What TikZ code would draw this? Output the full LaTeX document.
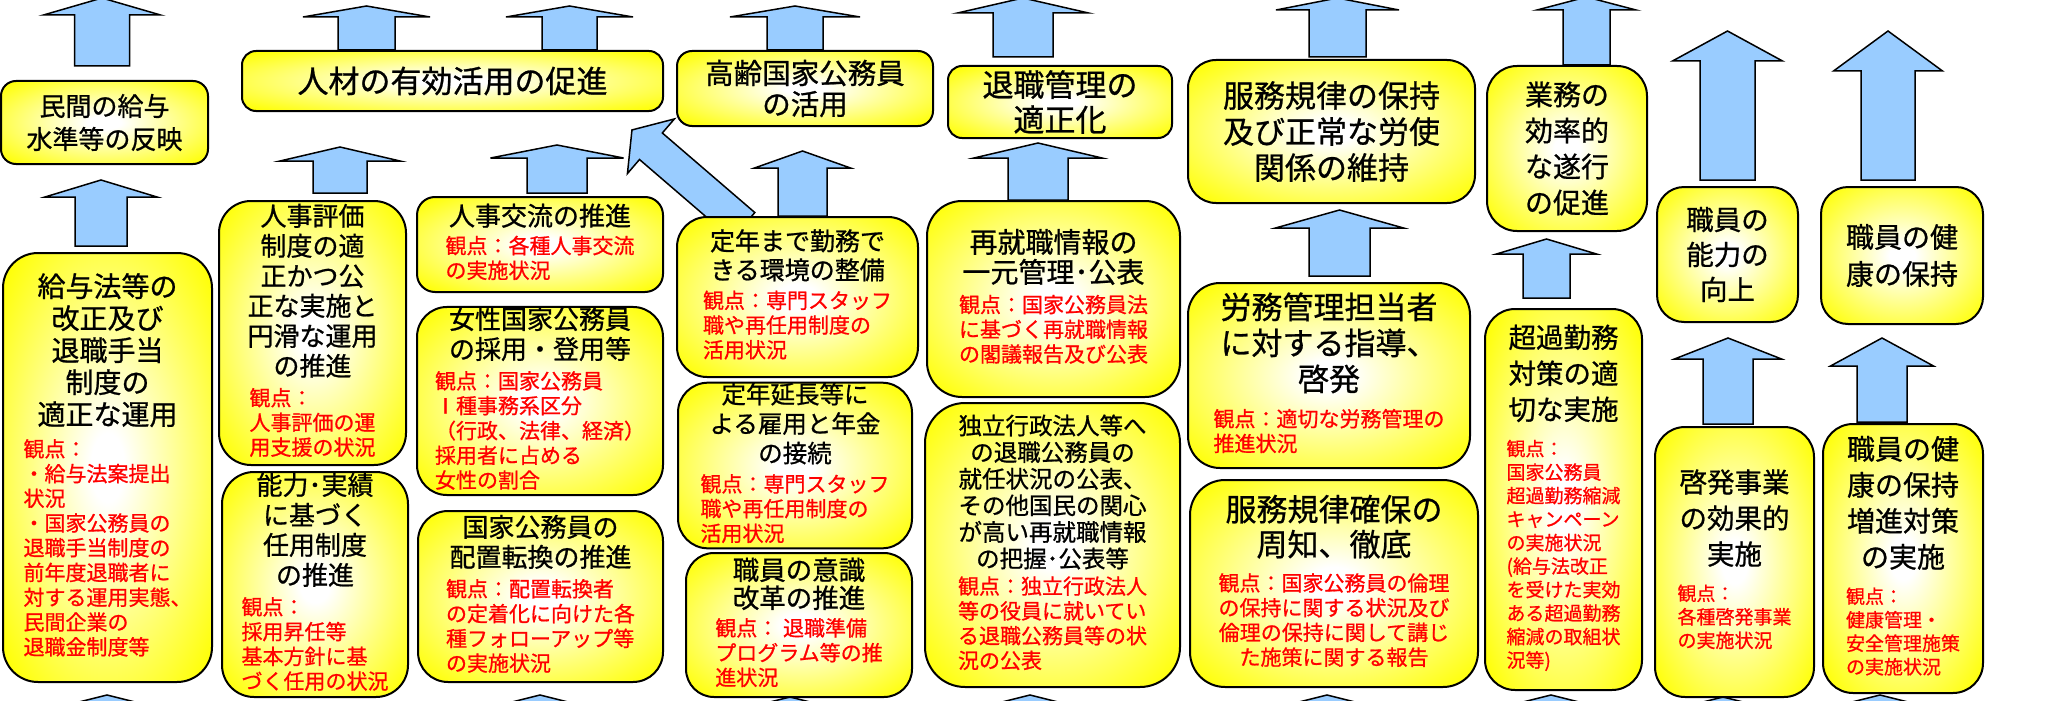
\documentclass[tikz,border=0pt]{standalone}
\usepackage{fontspec}
\setmainfont{Noto Sans CJK JP}[RawFeature={embolden=0.8}]
\usetikzlibrary{positioning,calc,backgrounds}
\definecolor{arrblue}{RGB}{153,204,255}
\pgfdeclareradialshading{boxglow}{\pgfpoint{0bp}{0bp}}{color(0bp)=(white); color(4bp)=(white); color(34bp)=(yellow); color(50bp)=(yellow)}
\tikzset{kbox/.style = {draw, line width=2pt, shading=boxglow, rounded corners=#1, inner sep=0pt, align=center},
         kbox/.default = 15pt,
         blockarr/.style = {draw, line width=1.5pt, fill=arrblue, line join=miter}}
\newcommand{\fs}[2]{\fontsize{#1}{#2}\selectfont}
\newcommand{\kanten}[2][l]{{\color{red}\fs{21}{23.5}\begin{tabular}[t]{@{}#1@{}}#2\end{tabular}}}
\newcommand{\kantens}[2][l]{{\color{red}\fs{19}{23.5}\begin{tabular}[t]{@{}#1@{}}#2\end{tabular}}}
% x centre, from (bottom), to (tip), shaft half, head half, head length
\newcommand{\blkup}[6]{\draw[blockarr] let \p1=#2, \p2=#3 in
    (#1pt-#4pt,\y1) -- (#1pt-#4pt,\y2-#6pt) -- (#1pt-#5pt,\y2-#6pt) -- (#1pt,\y2)
    -- (#1pt+#5pt,\y2-#6pt) -- (#1pt+#4pt,\y2-#6pt) -- (#1pt+#4pt,\y1) -- cycle;}

\begin{document}
\begin{tikzpicture}[x=1pt, y=-1pt]
    \useasboundingbox (0,0) rectangle (2067,701);

    \node[kbox=15pt, minimum width=207pt, minimum height=83pt,  font=\fs{26}{33}]     (minkan)    at (104.5,122.5)  {民間の給与\\水準等の反映};
    \node[kbox=35pt, minimum width=209pt, minimum height=429pt, font=\fs{28}{32}]     (kyuyo)     at (107.5,467.5)  {給与法等の\\改正及び\\退職手当\\制度の\\適正な運用\\
        \kanten{観点：\\・給与法案提出\\状況\\・国家公務員の\\退職手当制度の\\前年度退職者に\\対する運用実態、\\民間企業の\\退職金制度等}};

    \node[kbox=14pt, minimum width=421pt, minimum height=60pt,  font=\fs{31}{36}]     (jinzai)    at (452.5,81)     {人材の有効活用の促進};
    \node[kbox=32pt, minimum width=187pt, minimum height=264pt, font=\fs{26}{30}]     (hyoka)     at (312.5,333)    {人事評価\\制度の適\\正かつ公\\正な実施と\\円滑な運用\\の推進\\
        \kanten{観点：\\人事評価の運\\用支援の状況}};
    \node[kbox=32pt, minimum width=186pt, minimum height=225pt, font=\fs{26}{30}]     (noryoku)   at (315,584.5)    {能力･実績\\に基づく\\任用制度\\の推進\\
        \kanten{観点：\\採用昇任等\\基本方針に基\\づく任用の状況}};
    \node[kbox=18pt, minimum width=246pt, minimum height=95pt,  font=\fs{26}{28}]     (koryu)     at (540,244.5)    {人事交流の推進\\
        \kanten{観点：各種人事交流\\の実施状況}};
    \node[kbox=30pt, minimum width=246pt, minimum height=188pt, font=\fs{26}{30}]     (josei)     at (540,401)      {女性国家公務員\\の採用・登用等\\
        \kanten{観点：国家公務員\\Ⅰ種事務系区分\\（行政、法律、経済）\\採用者に占める\\女性の割合}};
    \node[kbox=30pt, minimum width=245pt, minimum height=171pt, font=\fs{26}{30}]     (haichi)    at (540.5,596.5)  {国家公務員の\\配置転換の推進\\
        \kanten{観点：配置転換者\\の定着化に向けた各\\種フォローアップ等\\の実施状況}};

    \node[kbox=15pt, minimum width=256pt, minimum height=75pt,  font=\fs{28.5}{31}]   (korei)     at (805,88.5)     {高齢国家公務員\\の活用};
    \node[kbox=30pt, minimum width=241pt, minimum height=160pt, font=\fs{25}{29}]     (teinen)    at (797.5,297)    {定年まで勤務で\\きる環境の整備\\
        \kanten{観点：専門スタッフ\\職や再任用制度の\\活用状況}};
    \node[kbox=30pt, minimum width=234pt, minimum height=165pt, font=\fs{24.5}{29.5}] (encho)     at (795,465.5)    {定年延長等に\\よる雇用と年金\\の接続\\
        \kanten{観点：専門スタッフ\\職や再任用制度の\\活用状況}};
    \node[kbox=28pt, minimum width=226pt, minimum height=144pt, font=\fs{26.5}{28}]   (ishiki)    at (799,625)      {職員の意識\\改革の推進\\
        \kanten{観点： 退職準備\\プログラム等の推\\進状況}};

    \node[kbox=14pt, minimum width=224pt, minimum height=72pt,  font=\fs{31}{35}]     (taishoku)  at (1060,102)     {退職管理の\\適正化};
    \node[kbox=35pt, minimum width=253pt, minimum height=196pt, font=\fs{28}{30}]     (saishu)    at (1053.5,299)   {再就職情報の\\一元管理･公表\\
        \kanten{観点：国家公務員法\\に基づく再就職情報\\の閣議報告及び公表}};
    \node[kbox=40pt, minimum width=255pt, minimum height=284pt, font=\fs{23.5}{26.6}] (dokuritsu) at (1052.5,545)   {独立行政法人等へ\\の退職公務員の\\就任状況の公表、\\その他国民の関心\\が高い再就職情報\\の把握･公表等\\
        \kanten{観点：独立行政法人\\等の役員に就いてい\\る退職公務員等の状\\況の公表}};

    \node[kbox=28pt, minimum width=287pt, minimum height=143pt, font=\fs{31}{36}]     (fukumu)    at (1331.5,131.5) {服務規律の保持\\及び正常な労使\\関係の維持};
    \node[kbox=32pt, minimum width=282pt, minimum height=185pt, font=\fs{31}{36}]     (romu)      at (1329,375.5)   {労務管理担当者\\に対する指導、\\啓発\\
        \kanten{観点：適切な労務管理の\\推進状況}};
    \node[kbox=35pt, minimum width=288pt, minimum height=207pt, font=\fs{31}{35}]     (kakuho)    at (1334,583.5)   {服務規律確保の\\周知、徹底\\
        \kanten[c]{観点：国家公務員の倫理\\の保持に関する状況及び\\倫理の保持に関して講じ\\た施策に関する報告}};

    \node[kbox=30pt, minimum width=160pt, minimum height=165pt, font=\fs{28}{36}]     (gyomu)     at (1567,148.5)   {業務の\\効率的\\な遂行\\の促進};
    \node[kbox=30pt, minimum width=157pt, minimum height=381pt, font=\fs{27.5}{36}]   (choka)     at (1563.5,499.5) {超過勤務\\対策の適\\切な実施\\
        \kantens{観点：\\国家公務員\\超過勤務縮減\\キャンペーン\\の実施状況\\(給与法改正\\を受けた実効\\ある超過勤務\\縮減の取組状\\況等)}};

    \node[kbox=27pt, minimum width=141pt, minimum height=135pt, font=\fs{27.5}{35}]   (nokoj)     at (1727.5,254.5) {職員の\\能力の\\向上};
    \node[kbox=30pt, minimum width=159pt, minimum height=270pt, font=\fs{27.5}{36}]   (keihatsu)  at (1734.5,562)   {啓発事業\\の効果的\\実施\\
        \kantens{観点：\\各種啓発事業\\の実施状況}};

    \node[kbox=27pt, minimum width=162pt, minimum height=137pt, font=\fs{28}{37}]     (kenko)     at (1902,255.5)   {職員の健\\康の保持};
    \node[kbox=30pt, minimum width=160pt, minimum height=269pt, font=\fs{28}{36}]     (kenzo)     at (1903,558.5)   {職員の健\\康の保持\\増進対策\\の実施\\
        \kantens{観点：\\健康管理・\\安全管理施策\\の実施状況}};

    % free ends beyond the frame
    \coordinate (t1) at (102,-2);    \coordinate (t2) at (366.5,6);  \coordinate (t3) at (569.5,6);
    \coordinate (t4) at (795,6);     \coordinate (t5) at (1023,-2);  \coordinate (t6) at (1337.5,-2);
    \coordinate (t7) at (1587,-3);   \coordinate (t8) at (1727.5,31); \coordinate (t9) at (1888,31);
    \foreach \i/\x in {1/107, 2/540, 3/790, 4/1030, 5/1327, 6/1551, 7/1723, 8/1880}
        \coordinate (b\i) at (\x,770);

    \begin{scope}[on background layer]
        \blkup{102}{($(minkan.north)+(0,-14)$)}{(t1)}{27.5}{58.5}{17}
        \blkup{101}{($(kyuyo.north)+(0,-6)$)}{($(minkan.south)+(0,15)$)}{26}{56}{17}
        \blkup{366.5}{(jinzai.north)}{(t2)}{28.5}{63.5}{11}
        \blkup{569.5}{(jinzai.north)}{(t3)}{27.5}{63.5}{11}
        \blkup{340}{($(hyoka.north)+(0,-7)$)}{($(jinzai.south)+(0,35)$)}{27}{60}{14}
        \blkup{557}{($(koryu.north)+(0,-3)$)}{($(jinzai.south)+(0,33)$)}{30}{66.5}{13}
        \blkup{795}{(korei.north)}{(t4)}{28}{65}{11}
        \blkup{802.5}{(teinen.north)}{($(korei.south)+(0,24)$)}{24.5}{48}{17}
        \draw[blockarr, shift={($(teinen.north west)+(67.4,9.8)$)}, rotate=139.3]
            (0,-17.5) -- (122,-17.5) -- (122,-36) -- (147,0) -- (122,36) -- (122,17.5) -- (0,17.5) -- cycle;
        \blkup{1023}{($(taishoku.north)+(0,-8)$)}{(t5)}{30}{65.5}{15}
        \blkup{1038}{(saishu.north)}{($(taishoku.south)+(0,4)$)}{30}{64}{15}
        \blkup{1337.5}{($(fukumu.north)+(0,-2)$)}{(t6)}{28.5}{61.5}{12}
        \blkup{1339.5}{($(romu.north)+(0,-6)$)}{($(fukumu.south)+(0,6)$)}{30.5}{64}{18}
        \blkup{1586.5}{(gyomu.north)}{(t7)}{23.5}{49.5}{13}
        \blkup{1546.5}{($(choka.north)+(0,-10)$)}{($(gyomu.south)+(0,7)$)}{23.5}{50}{15}
        \blkup{1727.5}{($(nokoj.north)+(0,-6)$)}{(t8)}{27.5}{55}{30}
        \blkup{1728}{($(keihatsu.north)+(0,-2)$)}{($(nokoj.south)+(0,15)$)}{25}{53.5}{21}
        \blkup{1888}{($(kenko.north)+(0,-6)$)}{(t9)}{27}{54.5}{40}
        \blkup{1882}{($(kenzo.north)+(0,-1)$)}{($(kenko.south)+(0,13)$)}{25}{51.5}{28}
        % arrows coming up from below the frame
        \blkup{107}{(b1)}{($(kyuyo.south)+(0,12)$)}{27}{60}{15}
        \blkup{540}{(b2)}{($(haichi.south)+(0,12)$)}{27}{60}{15}
        \blkup{790}{(b3)}{($(ishiki.south)+(0,-1)$)}{27}{60}{15}
        \blkup{1030}{(b4)}{($(dokuritsu.south)+(0,7)$)}{27}{60}{15}
        \blkup{1327}{(b5)}{($(kakuho.south)+(0,7)$)}{27}{60}{15}
        \blkup{1551}{(b6)}{($(choka.south)+(0,4)$)}{27}{60}{15}
        \blkup{1723}{(b7)}{($(keihatsu.south)+(0,-1)$)}{27}{60}{15}
        \blkup{1880}{(b8)}{($(kenzo.south)+(0,1)$)}{27}{60}{15}
    \end{scope}
\end{tikzpicture}
\end{document}
